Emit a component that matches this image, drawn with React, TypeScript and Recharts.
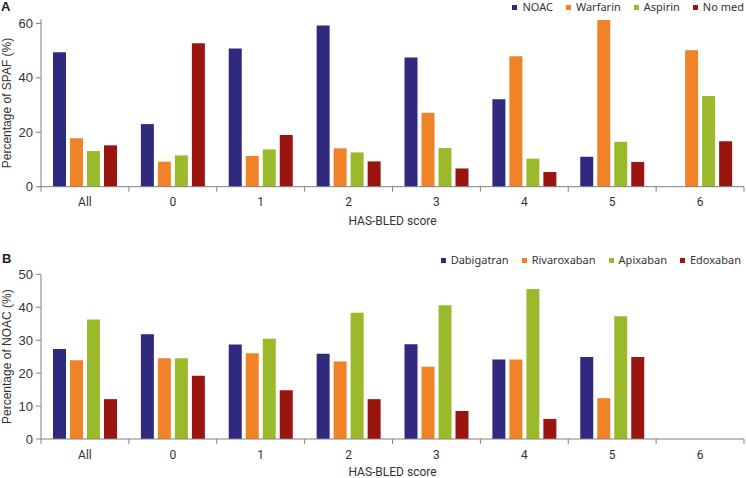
import React from 'react';
import { BarChart, Bar, XAxis, YAxis } from 'recharts';

// ---------- data ----------
const categories = ['All', '0', '1', '2', '3', '4', '5', '6'];

// Panel A: percentage of SPAF
const noac = [49.4, 23.0, 50.8, 59.2, 47.5, 32.1, 11.0, 0];
const warfarin = [17.8, 9.2, 11.3, 14.1, 27.2, 47.9, 61.2, 50.1];
const aspirin = [13.1, 11.5, 13.7, 12.6, 14.2, 10.3, 16.5, 33.3];
const noMed = [15.2, 52.7, 19.0, 9.3, 6.7, 5.4, 9.1, 16.7];

// Panel B: percentage of NOAC
const dabigatran = [27.3, 31.8, 28.7, 25.9, 28.8, 24.1, 24.9, null];
const rivaroxaban = [23.9, 24.5, 26.0, 23.5, 21.9, 24.1, 12.4, null];
const apixaban = [36.3, 24.5, 30.4, 38.3, 40.6, 45.5, 37.3, null];
const edoxaban = [12.1, 19.2, 14.8, 12.1, 8.5, 6.1, 24.9, null];

const ticksA = [0, 20, 40, 60];
const ticksB = [0, 10, 20, 30, 40, 50];

const seriesA = [
  { key: 'noac', name: 'NOAC', values: noac },
  { key: 'warfarin', name: 'Warfarin', values: warfarin },
  { key: 'aspirin', name: 'Aspirin', values: aspirin },
  { key: 'noMed', name: 'No med', values: noMed },
];
const seriesB = [
  { key: 'dabigatran', name: 'Dabigatran', values: dabigatran },
  { key: 'rivaroxaban', name: 'Rivaroxaban', values: rivaroxaban },
  { key: 'apixaban', name: 'Apixaban', values: apixaban },
  { key: 'edoxaban', name: 'Edoxaban', values: edoxaban },
];

const COLORS = ['#2f2a7e', '#f08228', '#9ab92b', '#9b1510'];
const AXIS = '#808080';
const TEXT = '#333333';
const W = 746;
const Y_W = 41;
const M_RIGHT = 2;
const BAND_HALF = (W - Y_W - M_RIGHT) / categories.length / 2;

const buildRows = (series: { key: string; values: (number | null)[] }[]) =>
  categories.map((c, i) => {
    const row: Record<string, any> = { cat: c };
    series.forEach((s) => (row[s.key] = s.values[i]));
    return row;
  });

const dataA = buildRows(seriesA);
const dataB = buildRows(seriesB);

const XTick = (props: any) => {
  const { x, y, payload, index } = props;
  const half = payload && typeof payload.offset === 'number' && payload.offset > 0 ? payload.offset : BAND_HALF;
  return (
    <g>
      <line x1={x - half} y1={y} x2={x - half} y2={y + 5} stroke={AXIS} />
      {index === categories.length - 1 && (
        <line x1={x + half} y1={y} x2={x + half} y2={y + 5} stroke={AXIS} />
      )}
      <text x={x} y={y + 19.5} textAnchor="middle" fill={TEXT} fontSize={12} fontFamily="Roboto, 'Liberation Sans', sans-serif">
        {payload.value}
      </text>
    </g>
  );
};

const Legend = ({ series, right, top }: { series: { name: string }[]; right: number; top: number }) => (
  <div
    style={{
      position: 'absolute',
      right,
      top,
      display: 'flex',
      alignItems: 'center',
      whiteSpace: 'nowrap',
      fontFamily: "'Noto Sans', sans-serif",
      fontSize: 11,
      color: TEXT,
      lineHeight: '14px',
    }}
  >
    {series.map((s, i) => (
      <div key={s.name} style={{ display: 'flex', alignItems: 'center', marginRight: i < series.length - 1 ? 13 : 0 }}>
        <span style={{ width: 5, height: 5, background: COLORS[i], marginRight: 5, display: 'inline-block' }} />
        <span>{s.name}</span>
      </div>
    ))}
  </div>
);

const Panel = ({
  data,
  series,
  ticks,
  domain,
  yLabel,
  height,
  marginTop,
  marginBottom,
  xAxisHeight,
}: any) => (
  <BarChart
    width={W}
    height={height}
    data={data}
    margin={{ top: marginTop, right: M_RIGHT, bottom: marginBottom, left: 0 }}
    barSize={13}
    barGap={4}
  >
    <XAxis
      dataKey="cat"
      interval={0}
      tickLine={false}
      tickSize={0}
      tickMargin={0}
      axisLine={{ stroke: AXIS }}
      tick={<XTick />}
      height={xAxisHeight}
      label={{
        value: 'HAS-BLED score',
        position: 'insideBottom',
        offset: 0,
        fill: TEXT,
        fontSize: 12,
        fontFamily: "Roboto, 'Liberation Sans', sans-serif",
      }}
    />
    <YAxis
      width={Y_W}
      domain={domain}
      ticks={ticks}
      interval={0}
      tickSize={5}
      tickMargin={3}
      tickLine={{ stroke: AXIS }}
      axisLine={{ stroke: AXIS }}
      tick={{ fill: TEXT, fontSize: 13, fontFamily: "'Liberation Sans', Arial, sans-serif" }}
      label={{
        value: yLabel,
        angle: -90,
        position: 'center',
        dx: -14,
        fill: TEXT,
        fontSize: 12,
        fontFamily: "'Liberation Sans', Arial, sans-serif",
      }}
    />
    {series.map((s: any, i: number) => (
      <Bar key={s.key} dataKey={s.key} name={s.name} fill={COLORS[i]} isAnimationActive={false} />
    ))}
  </BarChart>
);

export default function App() {
  return (
    <div style={{ position: 'absolute', left: 0, top: 0, width: 746, height: 478, background: '#fff' }}>
      <div style={{ position: 'absolute', left: 0, top: 0 }}>
        <Panel
          data={dataA}
          series={seriesA}
          ticks={ticksA}
          domain={[0, 61.5]}
          yLabel="Percentage of SPAF (%)"
          height={240}
          marginTop={19.3}
          marginBottom={14.7}
          xAxisHeight={38.6}
        />
      </div>
      <div style={{ position: 'absolute', left: 0, top: 240 }}>
        <Panel
          data={dataB}
          series={seriesB}
          ticks={ticksB}
          domain={[0, 50]}
          yLabel="Percentage of NOAC (%)"
          height={238}
          marginTop={34.3}
          marginBottom={2.2}
          xAxisHeight={36.8}
        />
      </div>
      <div style={{ position: 'absolute', left: 1, top: -1, fontFamily: "'Liberation Sans', Arial, sans-serif", fontWeight: 'bold', fontSize: 13, color: '#222' }}>A</div>
      <div style={{ position: 'absolute', left: 2, top: 251, fontFamily: "'Liberation Sans', Arial, sans-serif", fontWeight: 'bold', fontSize: 13, color: '#222' }}>B</div>
      <Legend series={seriesA} right={2} top={0} />
      <Legend series={seriesB} right={5} top={253} />
    </div>
  );
}
